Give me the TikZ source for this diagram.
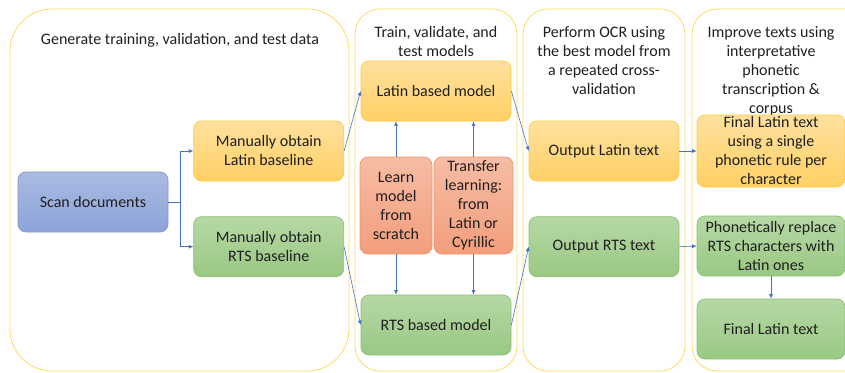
\documentclass[tikz,border=0pt]{standalone}
\usepackage{fontspec}
\setmainfont{Carlito}
\usetikzlibrary{positioning,arrows.meta}
\definecolor{frameyellow}{HTML}{FFD966}
\definecolor{linkblue}{HTML}{4472C4}
\definecolor{inktext}{HTML}{1F1F1F}
\definecolor{goldtop}{HTML}{FFE09E}
\definecolor{goldbot}{HTML}{FFD064}
\definecolor{goldline}{HTML}{FFC83D}
\definecolor{greentop}{HTML}{B6D8A5}
\definecolor{greenbot}{HTML}{9AC883}
\definecolor{greenline}{HTML}{8CBF73}
\definecolor{bluetop}{HTML}{AABAE2}
\definecolor{bluebot}{HTML}{8DA4D9}
\definecolor{blueline}{HTML}{7D98D2}
\definecolor{salmontop}{HTML}{F7BCA4}
\definecolor{salmonbot}{HTML}{F29E7C}
\definecolor{salmonline}{HTML}{EE9570}

\begin{document}
\begin{tikzpicture}[
  x=1pt, y=-1pt, >={Latex[length=4.5pt,width=4pt]},
  font=\fontsize{16}{19}\selectfont, text=inktext,
  stage/.style={draw=frameyellow,line width=0.8pt},
  box/.style={rounded corners=8pt,align=center,inner sep=1pt,minimum width=150pt,minimum height=60pt,line width=0.7pt},
  goldbox/.style={box,top color=goldtop,bottom color=goldbot,draw=goldline},
  greenbox/.style={box,top color=greentop,bottom color=greenbot,draw=greenline},
  bluebox/.style={box,top color=bluetop,bottom color=bluebot,draw=blueline},
  salmonbox/.style={box,top color=salmontop,bottom color=salmonbot,draw=salmonline,minimum height=97pt},
  title/.style={align=center,anchor=north,inner sep=0pt},
  conn/.style={->,draw=linkblue,line width=0.6pt}]
\useasboundingbox (0,0) rectangle (845,372);
\clip (0,0) rectangle (845,372);
% stage frames
\draw[stage,rounded corners=42pt] (10,9) rectangle (349,371);
\draw[stage,rounded corners=25pt] (355,9) rectangle (517,371);
\draw[stage,rounded corners=25pt] (523,9) rectangle (685,371);
\draw[stage,rounded corners=25pt] (692,9) rectangle (880,371);
\node[title] (t1) at (180,33) {Generate training, validation, and test data};
\node[title] (t2) at (436,26) {Train, validate, and\\test models};
\node[title] (t3) at (604,26) {Perform OCR using\\the best model from\\a repeated cross-\\validation};
\node[title] (t4) at (771,26) {Improve texts using\\interpretative\\phonetic\\transcription \&\\corpus};
% data
\node[bluebox] (scan) at (93,202) {Scan documents};
\node[goldbox,right=25pt of scan,yshift=51pt] (latbase) {Manually obtain\\Latin baseline};
\node[greenbox,below=35pt of latbase] (rtsbase) {Manually obtain\\RTS baseline};
% models
\node[goldbox] (latmodel) at (436,91) {Latin based model};
\node[greenbox] (rtsmodel) at (436,325) {RTS based model};
\node[salmonbox,minimum width=72pt] (scratch) at (396,205.5) {Learn\\model\\from\\scratch};
\node[salmonbox,minimum width=79pt] (transfer) at (473.5,205.5) {Transfer\\learning:\\from\\Latin or\\Cyrillic};
% ocr
\node[goldbox] (latout) at (604,151) {Output Latin text};
\node[greenbox,below=35pt of latout] (rtsout) {Output RTS text};
% improve
\node[goldbox,minimum width=148pt,minimum height=72pt] (latfinal) at (771,151) {Final Latin text\\using a single\\phonetic rule per\\character};
\node[greenbox,minimum width=148pt] (replace) at (771,246) {Phonetically replace\\RTS characters with\\Latin ones};
\node[greenbox,minimum width=148pt] (rtsfinal) at (771,329) {Final Latin text};
% links
\draw[conn] (scan.east) -- ++(12,0) |- (latbase.west);
\draw[conn] (scan.east) -- ++(12,0) |- (rtsbase.west);
\draw[conn] (latbase.east) -- (latmodel.west);
\draw[conn] (rtsbase.east) -- (rtsmodel.west);
\draw[conn] (scratch.north) -- (scratch.north |- latmodel.south);
\draw[conn] (scratch.south) -- (scratch.south |- rtsmodel.north);
\draw[conn] (transfer.north) -- (transfer.north |- latmodel.south);
\draw[conn] (transfer.south) -- (transfer.south |- rtsmodel.north);
\draw[conn] (latmodel.east) -- (latout.west);
\draw[conn] (rtsmodel.east) -- (rtsout.west);
\draw[conn] (latout.east) -- (latfinal.west);
\draw[conn] (rtsout.east) -- (replace.west);
\draw[conn] (replace.south) -- (rtsfinal.north);
\end{tikzpicture}
\end{document}
